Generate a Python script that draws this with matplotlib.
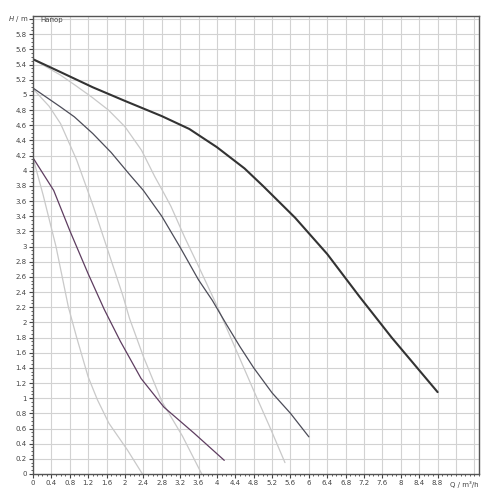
import matplotlib
matplotlib.use("Agg")
import matplotlib.pyplot as plt
from matplotlib.ticker import MultipleLocator, FixedLocator

# pump curves, Q in m3/h, H in m
q_max = [0, 0.6, 1.3, 2.0, 2.8, 3.4, 4.0, 4.6, 5.0, 5.7, 6.4, 7.1, 7.8, 8.8]
h_max = [5.47, 5.30, 5.10, 4.92, 4.72, 4.55, 4.31, 4.03, 3.80, 3.38, 2.90, 2.34, 1.80, 1.08]

q_light_a = [0, 0.6, 0.91, 1.28, 1.64, 2.0, 2.36, 2.65, 2.85, 3.0, 3.3, 3.6, 4.0,
             4.4, 4.8, 5.15, 5.48]
h_light_a = [5.47, 5.26, 5.13, 4.97, 4.80, 4.58, 4.27, 3.92, 3.70, 3.53, 3.12, 2.74, 2.22,
             1.66, 1.10, 0.62, 0.15]

q_mid = [0, 0.6, 0.9, 1.3, 1.7, 2.1, 2.4, 2.8, 3.2, 3.6, 3.9, 4.2, 4.5, 4.8, 5.2, 5.6, 6.0]
h_mid = [5.09, 4.84, 4.71, 4.49, 4.24, 3.95, 3.74, 3.40, 2.99, 2.56, 2.29, 1.98, 1.68,
         1.40, 1.07, 0.80, 0.49]

q_light_c = [0, 0.35, 0.6, 0.95, 1.3, 1.6, 1.95, 2.1, 2.4, 2.8, 3.25, 3.67]
h_light_c = [5.08, 4.85, 4.62, 4.14, 3.55, 3.0, 2.36, 2.05, 1.55, 0.96, 0.50, 0.0]

q_low = [0, 0.45, 0.8, 1.2, 1.55, 1.9, 2.35, 2.85, 3.5, 4.16]
h_low = [4.17, 3.74, 3.21, 2.64, 2.17, 1.75, 1.26, 0.88, 0.54, 0.18]

q_light_e = [0, 0.22, 0.5, 0.77, 0.95, 1.2, 1.4, 1.65, 2.05, 2.38]
h_light_e = [4.17, 3.68, 3.0, 2.2, 1.8, 1.28, 0.98, 0.67, 0.32, 0.0]

x_ticks = [0, 0.4, 0.8, 1.2, 1.6, 2, 2.4, 2.8, 3.2, 3.6, 4, 4.4, 4.8, 5.2, 5.6,
           6, 6.4, 6.8, 7.2, 7.6, 8, 8.4, 8.8]
y_ticks = [0, 0.2, 0.4, 0.6, 0.8, 1, 1.2, 1.4, 1.6, 1.8, 2, 2.2, 2.4, 2.6, 2.8,
           3, 3.2, 3.4, 3.6, 3.8, 4, 4.2, 4.4, 4.6, 4.8, 5, 5.2, 5.4, 5.6, 5.8]


def fmt(v):
    s = f"{v:.1f}"
    return s[:-2] if s.endswith(".0") else s


fig = plt.figure(figsize=(5, 5), dpi=100)
ax = fig.add_axes([0.066, 0.052, 0.892, 0.916])
ax.set_xlim(0, 9.7)
ax.set_ylim(0, 6.04)

# grid
for gx in [i * 0.4 for i in range(1, 25)]:
    ax.axvline(gx, color="#d2d2d2", lw=0.8, zorder=0)
for gy in [i * 0.2 for i in range(1, 31)]:
    ax.axhline(gy, color="#d2d2d2", lw=0.8, zorder=0)

light = "#c9c9c9"
kw = dict(solid_joinstyle="round", solid_capstyle="round")
ax.plot(q_light_e, h_light_e, color=light, lw=0.9, **kw)
ax.plot(q_light_c, h_light_c, color=light, lw=0.9, **kw)
ax.plot(q_light_a, h_light_a, color=light, lw=0.9, **kw)
ax.plot(q_low, h_low, color="#5e3d60", lw=0.9, **kw)
ax.plot(q_mid, h_mid, color="#4c4c58", lw=0.9, **kw)
ax.plot(q_max, h_max, color="#333333", lw=1.5, **kw)

for s in ax.spines.values():
    s.set_color("#555555")
    s.set_linewidth(1.0)

ax.xaxis.set_major_locator(FixedLocator(x_ticks))
ax.set_xticklabels([fmt(v) for v in x_ticks])
ax.xaxis.set_minor_locator(MultipleLocator(0.1))
ax.yaxis.set_major_locator(FixedLocator(y_ticks + [6.0]))
ax.set_yticklabels([fmt(v) for v in y_ticks] + [""])
ax.yaxis.set_minor_locator(MultipleLocator(0.05))

ax.tick_params(which="major", direction="out", length=3, width=0.8,
               color="#444444", labelsize=5, labelcolor="#444444", pad=1.5)
ax.tick_params(which="minor", direction="out", length=1.6, width=0.6,
               color="#444444")

fig.text(0.057, 0.962, "$H$ / m", ha="right", va="center", fontsize=5, color="#444444")
ax.text(0.15, 5.99, "Напор", ha="left", va="center", fontsize=5, color="#444444")
fig.text(0.958, 0.032, "Q / m³/h", ha="right", va="center", fontsize=5, color="#444444")

fig.savefig("out.png", dpi=100, facecolor="white")
